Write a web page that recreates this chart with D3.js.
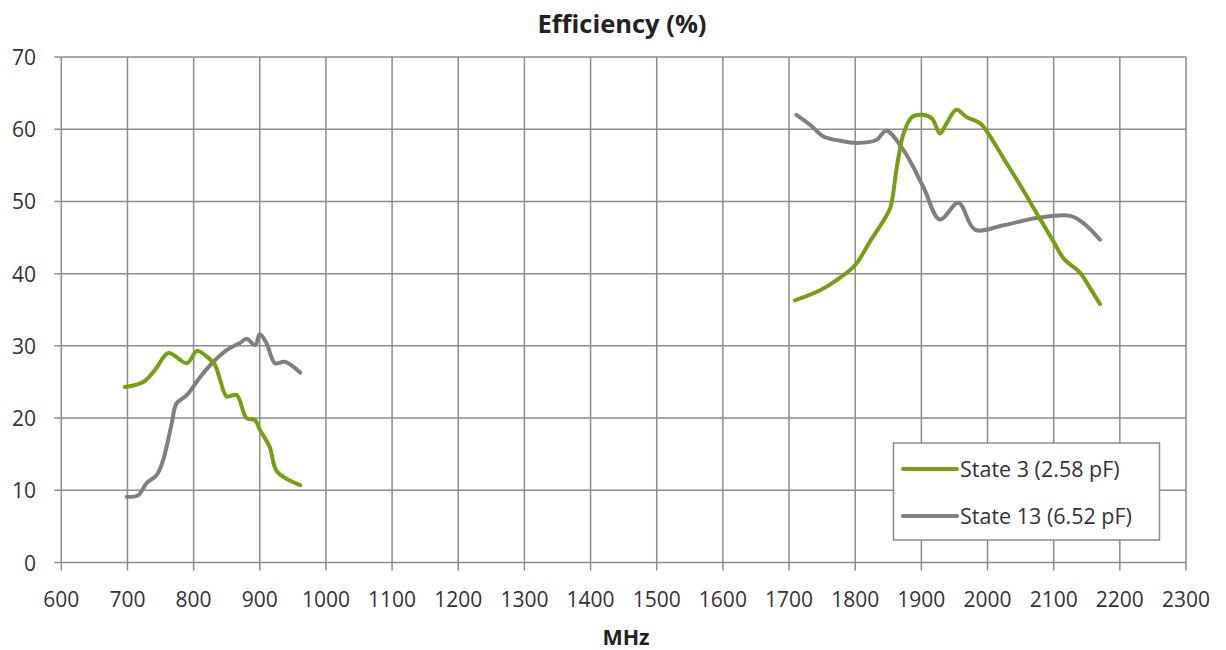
<!DOCTYPE html>
<html><head><meta charset="utf-8">
<script src="https://cdn.jsdelivr.net/npm/d3@7"></script>
<style>
html,body{margin:0;padding:0;background:#fff;}
svg{display:block;font-family:"Open Sans","DejaVu Sans",sans-serif;}
</style></head>
<body><svg id="c" width="1226" height="650"></svg>
<script>
const xTicks = [600,700,800,900,1000,1100,1200,1300,1400,1500,1600,1700,1800,1900,2000,2100,2200,2300];
const yTicks = [0,10,20,30,40,50,60,70];
const seriesNames = ["State 3 (2.58 pF)", "State 13 (6.52 pF)"];
const seriesColors = ["#76a012", "#808080"];

// State 3 low band
const s3LowF = [696,724,742,762,790,805,820,832,840,850,865,880,893,900,915,926,961];
const s3LowV = [24.3,25.0,26.7,29.0,27.6,29.3,28.5,27.4,25.3,23.0,23.2,20.0,19.7,18.4,16.0,12.6,10.7];
// State 3 high band
const s3HighF = [1709,1747,1772,1800,1822,1843,1853,1863,1873,1886,1901,1916,1928,1938,1953,1968,1989,1999,2024,2049,2074,2100,2115,2140,2155,2170];
const s3HighV = [36.3,37.7,39.1,41.2,44.4,47.4,49.1,54.8,59.4,61.7,62.0,61.5,59.4,60.8,62.7,61.7,60.8,59.7,56.0,52.3,48.4,44.4,42.1,40.1,38.0,35.8];
// State 13 low band
const s13LowF = [699,716,729,744,754,767,774,790,810,830,850,870,880,893,900,910,923,938,961];
const s13LowV = [9.1,9.3,11.0,12.1,14.2,19.3,22.0,23.2,25.7,27.8,29.4,30.4,31.0,30.1,31.6,30.4,27.6,27.8,26.3];
// State 13 high band
const s13HighF = [1711,1732,1752,1777,1802,1832,1847,1873,1903,1928,1956,1981,2024,2074,2125,2145,2170];
const s13HighV = [62.0,60.6,59.0,58.4,58.1,58.5,59.8,57.1,52.0,47.5,49.8,46.1,46.7,47.7,48.0,47.0,44.7];

const svg = d3.select("#c");
const L = 61.3, R = 1186, T = 57, B = 562.5;
const x = d3.scaleLinear().domain([600,2300]).range([L,R]);
const y = d3.scaleLinear().domain([0,70]).range([B,T]);
const gridColor = "#8c8c8c";

// grid
const g = svg.append("g");
g.selectAll("line.v").data(xTicks).enter().append("line")
  .attr("x1", d=>x(d)).attr("x2", d=>x(d)).attr("y1", T).attr("y2", B+8)
  .attr("stroke", gridColor).attr("stroke-width", 1.5);
g.selectAll("line.h").data(yTicks).enter().append("line")
  .attr("x1", L-7).attr("x2", R).attr("y1", d=>y(d)).attr("y2", d=>y(d))
  .attr("stroke", gridColor).attr("stroke-width", 1.5);

// tick labels
svg.append("g").selectAll("text").data(xTicks).enter().append("text")
  .attr("x", d=>x(d)).attr("y", 607).attr("text-anchor","middle")
  .attr("font-size", 21).attr("fill","#333").text(d=>d);
svg.append("g").selectAll("text").data(yTicks).enter().append("text")
  .attr("x", 36).attr("y", d=>y(d)+8).attr("text-anchor","end")
  .attr("font-size", 21).attr("fill","#333").text(d=>d);

// title and axis label
svg.append("text").attr("x", 622).attr("y", 33).attr("text-anchor","middle")
  .attr("font-size", 25.5).attr("font-weight","bold").attr("fill","#222").text("Efficiency (%)");
svg.append("text").attr("x", 626).attr("y", 645).attr("text-anchor","middle")
  .attr("font-size", 21.5).attr("font-weight","bold").attr("fill","#222").text("MHz");

// lines
const line = d3.line().x(d=>x(d[0])).y(d=>y(d[1])).curve(d3.curveCatmullRom.alpha(0.5));
const segs = [
  [d3.zip(s3LowF, s3LowV), 0],
  [d3.zip(s3HighF, s3HighV), 0],
  [d3.zip(s13LowF, s13LowV), 1],
  [d3.zip(s13HighF, s13HighV), 1]
];
[2,3,0,1].forEach(i => {
  svg.append("path").attr("d", line(segs[i][0])).attr("fill","none")
    .attr("stroke", seriesColors[segs[i][1]]).attr("stroke-width", 4)
    .attr("stroke-linejoin","round").attr("stroke-linecap","round");
});

// legend
const lg = svg.append("g");
lg.append("rect").attr("x", 893.5).attr("y", 443).attr("width", 266).attr("height", 97)
  .attr("fill","#fff").attr("stroke","#8c8c8c").attr("stroke-width", 1.5);
seriesNames.forEach((n,i) => {
  const yy = 469 + i*47;
  lg.append("line").attr("x1", 903).attr("x2", 957).attr("y1", yy).attr("y2", yy)
    .attr("stroke", seriesColors[i]).attr("stroke-width", 4).attr("stroke-linecap","round");
  lg.append("text").attr("x", 960).attr("y", yy+8).attr("font-size", 21.5).attr("fill","#333").text(n);
});
</script></body></html>
